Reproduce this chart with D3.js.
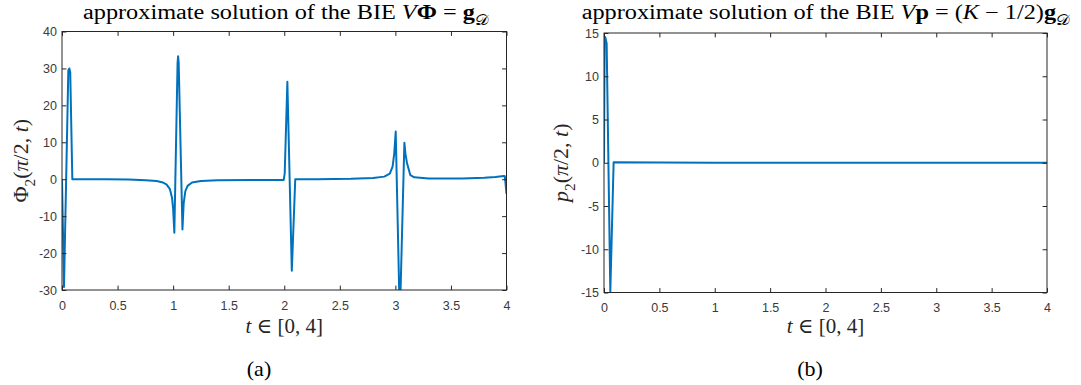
<!DOCTYPE html>
<html><head><meta charset="utf-8">
<script src="https://cdn.jsdelivr.net/npm/d3@7"></script>
<style>body{margin:0;background:#fff;} svg{display:block}</style>
</head><body>
<svg id="c" width="1081" height="385"></svg>
<script>
// ---- data ----
const phiT = [0.000,0.018,0.057,0.066,0.074,0.093,0.20,0.40,0.60,0.75,0.85,0.90,0.94,0.97,0.99,1.000,1.011,1.040,1.045,1.050,1.084,1.095,1.110,1.130,1.170,1.250,1.400,1.700,1.995,2.004,2.028,2.068,2.099,2.300,2.600,2.800,2.900,2.950,2.975,2.990,3.003,3.040,3.081,3.090,3.105,3.135,3.170,3.300,3.600,3.800,3.900,3.976,3.985,4.000];
const phiV = [0,-29.2,29.5,30.0,29.0,0.0,0.0,0.0,-0.1,-0.3,-0.5,-0.8,-1.4,-2.6,-5.0,-8.0,-14.5,31.5,33.3,31.5,-13.6,-6.5,-3.2,-1.8,-0.9,-0.5,-0.3,-0.2,-0.2,1.5,26.4,-24.8,0.0,0.0,0.1,0.3,0.7,1.5,3.4,7.0,12.9,-38,9.9,7.0,4.3,1.1,0.5,0.2,0.2,0.4,0.6,0.9,0.8,-4.0];
const pT = [0,0.006,0.014,0.024,0.057,0.087,0.5,1,1.5,2,2.5,3,3.5,4];
const pV = [0,14.6,14.4,13.8,-14.9,0.05,0.02,0,0,0,0,0,0,0];
const xTicks = [0,0.5,1,1.5,2,2.5,3,3.5,4];
const xTickLabels = ["0","0.5","1","1.5","2","2.5","3","3.5","4"];
const phiYTicks = [40,30,20,10,0,-10,-20,-30];
const pYTicks = [15,10,5,0,-5,-10,-15];

const svg = d3.select("#c");
const SERIF = "'Liberation Serif','DejaVu Serif',serif";
const SANS = "'Liberation Sans',Arial,Helvetica,sans-serif";
const AX = "#262626";

function mathText(parent, segs, size, fill) {
  const t = parent.append("text").attr("font-family", SERIF).attr("font-size", size)
    .attr("fill", fill).attr("text-anchor", "middle");
  let shift = 0;
  segs.forEach(s => {
    const ts = t.append("tspan").text(s.t);
    if (s.i) ts.attr("font-style", "italic");
    if (s.b) ts.attr("font-weight", "bold");
    const target = s.sub ? 0.3 : 0;
    if (target !== shift) { ts.attr("dy", ((target - shift) * size) + "px"); shift = target; }
    if (s.sub) ts.attr("font-size", size * 0.7);
    if (s.f) ts.attr("font-family", s.f);
  });
  return t;
}

function panel(cfg) {
  const x = d3.scaleLinear().domain([0, 4]).range([cfg.x0, cfg.x1]);
  const y = d3.scaleLinear().domain(cfg.yDom).range([cfg.y1, cfg.y0]);
  const g = svg.append("g");
  const id = "clip" + cfg.name;
  svg.append("clipPath").attr("id", id).append("rect")
    .attr("x", cfg.x0).attr("y", cfg.y0).attr("width", cfg.x1 - cfg.x0).attr("height", cfg.y1 - cfg.y0);
  const pts = cfg.T.map((t, i) => [t, cfg.V[i]]);
  g.append("path").datum(pts).attr("clip-path", `url(#${id})`)
    .attr("fill", "none").attr("stroke", "#0072BD").attr("stroke-width", 2)
    .attr("stroke-linejoin", "round")
    .attr("d", d3.line().x(d => x(d[0])).y(d => y(d[1])));
  const tl = 4.4;
  const styleAx = sel => {
    sel.select(".domain").remove();
    sel.selectAll("line").attr("stroke", AX).attr("stroke-width", 1);
    sel.selectAll("text").attr("fill", "#3a3a3a").attr("font-family", SANS).attr("font-size", 12.5);
  };
  g.append("g").attr("transform", `translate(0,${cfg.y1})`)
    .call(d3.axisBottom(x).tickValues(xTicks).tickFormat((d, i) => xTickLabels[i]).tickSize(-tl).tickPadding(11))
    .call(styleAx);
  g.append("g").attr("transform", `translate(0,${cfg.y0})`)
    .call(d3.axisTop(x).tickValues(xTicks).tickFormat("").tickSize(-tl)).call(styleAx);
  g.append("g").attr("transform", `translate(${cfg.x0},0)`)
    .call(d3.axisLeft(y).tickValues(cfg.yTicks).tickFormat(d => String(d)).tickSize(-tl).tickPadding(5))
    .call(styleAx);
  g.append("g").attr("transform", `translate(${cfg.x1},0)`)
    .call(d3.axisRight(y).tickValues(cfg.yTicks).tickFormat("").tickSize(-tl)).call(styleAx);
  g.append("rect").attr("x", cfg.x0).attr("y", cfg.y0).attr("width", cfg.x1 - cfg.x0)
    .attr("height", cfg.y1 - cfg.y0).attr("fill", "none").attr("stroke", AX).attr("stroke-width", 1);

  // title
  const tg = svg.append("g").attr("transform", `translate(${cfg.titleX},${cfg.titleY})`);
  mathText(tg, cfg.title, 20, "#000");
  const probe = svg.append("text").attr("font-family", SERIF).attr("font-size", 20).text("approximate solution of the BIE");
  const w = probe.node().getComputedTextLength(); probe.remove();
  tg.attr("transform", `translate(${cfg.titleX},${cfg.titleY}) scale(${313 / w},1)`);

  // x label
  const xg = svg.append("g").attr("transform", `translate(${(cfg.x0 + cfg.x1) / 2},${cfg.xlabY})`);
  mathText(xg, [{t: "t", i: 1}, {t: " \u2208 [0, 4]"}], 21, AX);
  // y label
  const yg = svg.append("g").attr("transform", `translate(${cfg.ylabX},${(cfg.y0 + cfg.y1) / 2}) rotate(-90)`);
  mathText(yg, cfg.ylab, 22, AX);
  // caption
  const cg = svg.append("g").attr("transform", `translate(${cfg.capX},376)`);
  mathText(cg, [{t: cfg.cap}], 22, "#000");
}

const calD = {t: "\uD835\uDC9F", sub: 1};
panel({name: "a", x0: 62, x1: 506.5, y0: 31.5, y1: 290, yDom: [-30, 40], yTicks: phiYTicks, T: phiT, V: phiV,
  title: [{t: "approximate solution of the BIE "}, {t: "V", i: 1}, {t: "\u03A6", b: 1}, {t: " = "}, {t: "g", b: 1}, calD],
  titleX: 286, titleY: 19, xlabY: 333, ylabX: 28,
  ylab: [{t: "\u03A6"}, {t: "2", sub: 1}, {t: "("}, {t: "\u03C0", i: 1}, {t: "/2, "}, {t: "t", i: 1}, {t: ")"}],
  capX: 259, cap: "(a)"});
panel({name: "b", x0: 604, x1: 1047, y0: 33, y1: 292.5, yDom: [-15, 15], yTicks: pYTicks, T: pT, V: pV,
  title: [{t: "approximate solution of the BIE "}, {t: "V", i: 1}, {t: "p", b: 1}, {t: " = ("}, {t: "K", i: 1}, {t: " \u2212 1/2)"}, {t: "g", b: 1}, calD],
  titleX: 826, titleY: 19, xlabY: 333, ylabX: 568,
  ylab: [{t: "p", i: 1}, {t: "2", sub: 1}, {t: "("}, {t: "\u03C0", i: 1}, {t: "/2, "}, {t: "t", i: 1}, {t: ")"}],
  capX: 810, cap: "(b)"});
</script>
</body></html>
